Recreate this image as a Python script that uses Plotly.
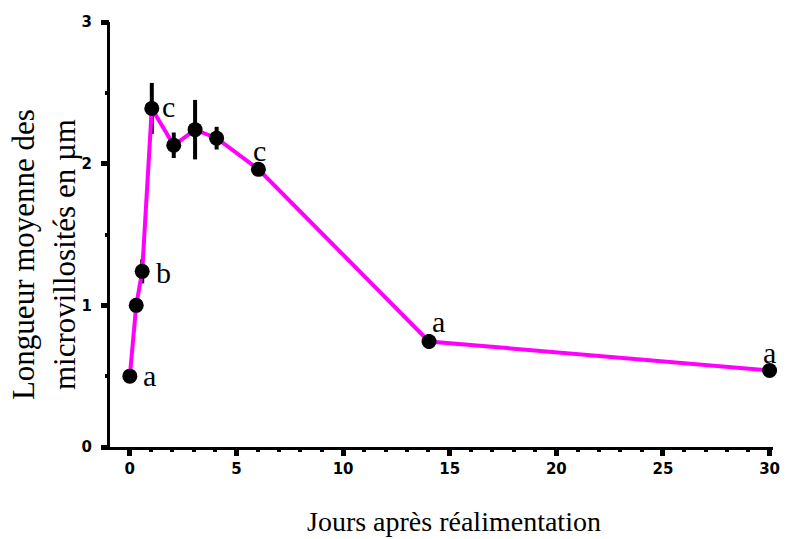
import plotly.graph_objects as go

# Data
days = [0, 0.3, 0.58, 1.03, 2.06, 3.06, 4.07, 6.03, 14.03, 30]
length_um = [0.5, 1.0, 1.24, 2.39, 2.13, 2.24, 2.18, 1.96, 0.745, 0.54]
err_um = [0.02, 0.02, 0.085, 0.18, 0.09, 0.21, 0.08, 0.03, 0.05, 0.03]

# Significance letters: (point index, letter)
letter_idx = [0, 2, 3, 7, 8, 9]
letter_txt = ["a", "b", "c", "c", "a", "a"]
letter_dx = [20, 21, 17, 1, 9, 0]
letter_dy = [1, -1, 2, 19, 20, 18]

x_ticks = [0, 5, 10, 15, 20, 25, 30]
y_ticks = [0, 1, 2, 3]
x_range = [-0.93, 30.16]
y_range = [0, 3]

x_title = "Jours après réalimentation"
y_title = "Longueur moyenne des<br>microvillosités en µm"

fig = go.Figure()
# invisible trace to carry the minor-tick axes
fig.add_trace(go.Scatter(x=[days[0]], y=[length_um[0]], xaxis="x2", yaxis="y2",
                         mode="markers", marker=dict(opacity=0), showlegend=False,
                         hoverinfo="skip"))
fig.add_trace(go.Scatter(
    x=days, y=length_um, mode="lines+markers",
    line=dict(color="#FF00FF", width=4),
    marker=dict(color="black", size=15),
    error_y=dict(type="data", array=err_um, color="black", thickness=4, width=0),
    showlegend=False, cliponaxis=False,
))

for i, t, dx, dy in zip(letter_idx, letter_txt, letter_dx, letter_dy):
    fig.add_annotation(
        x=days[i], y=length_um[i], xref="x", yref="y", text=t,
        showarrow=False, xshift=dx, yshift=dy,
        font=dict(family="Liberation Serif", size=30, color="black"),
    )

fig.add_annotation(
    x=-0.0993, y=0.452, xref="paper", yref="paper", text=y_title,
    textangle=-90, showarrow=False, xanchor="center", yanchor="middle",
    font=dict(family="Liberation Serif", size=31, color="black"),
)
fig.add_annotation(
    x=0.519, y=-0.176, xref="paper", yref="paper", text=x_title,
    showarrow=False, xanchor="center", yanchor="middle",
    font=dict(family="Liberation Serif", size=28, color="black"),
)

tickfont = dict(family="DejaVu Sans", size=15, color="black", weight="bold")
fig.update_layout(
    width=789, height=539,
    margin=dict(l=110, r=9, t=22, b=92),
    paper_bgcolor="white", plot_bgcolor="white",
    xaxis=dict(
        range=x_range, tickvals=x_ticks,
        showgrid=False, zeroline=False, showline=True, linecolor="black", linewidth=3,
        ticks="outside", ticklen=6, tickwidth=5, tickcolor="black", tickfont=tickfont,
    ),
    yaxis=dict(
        range=y_range, tickvals=y_ticks, ticklabelstandoff=6,
        showgrid=False, zeroline=False, showline=True, linecolor="black", linewidth=3,
        ticks="outside", ticklen=6, tickwidth=5, tickcolor="black", tickfont=tickfont,
    ),
    xaxis2=dict(
        overlaying="x", side="bottom", range=x_range, dtick=1, tick0=0,
        showticklabels=False, showgrid=False, zeroline=False, showline=False,
        ticks="outside", ticklen=4, tickwidth=4, tickcolor="black",
    ),
    yaxis2=dict(
        overlaying="y", side="left", range=y_range, dtick=0.5, tick0=0,
        showticklabels=False, showgrid=False, zeroline=False, showline=False,
        ticks="outside", ticklen=4, tickwidth=4, tickcolor="black",
    ),
)

fig.write_html("out.html")
